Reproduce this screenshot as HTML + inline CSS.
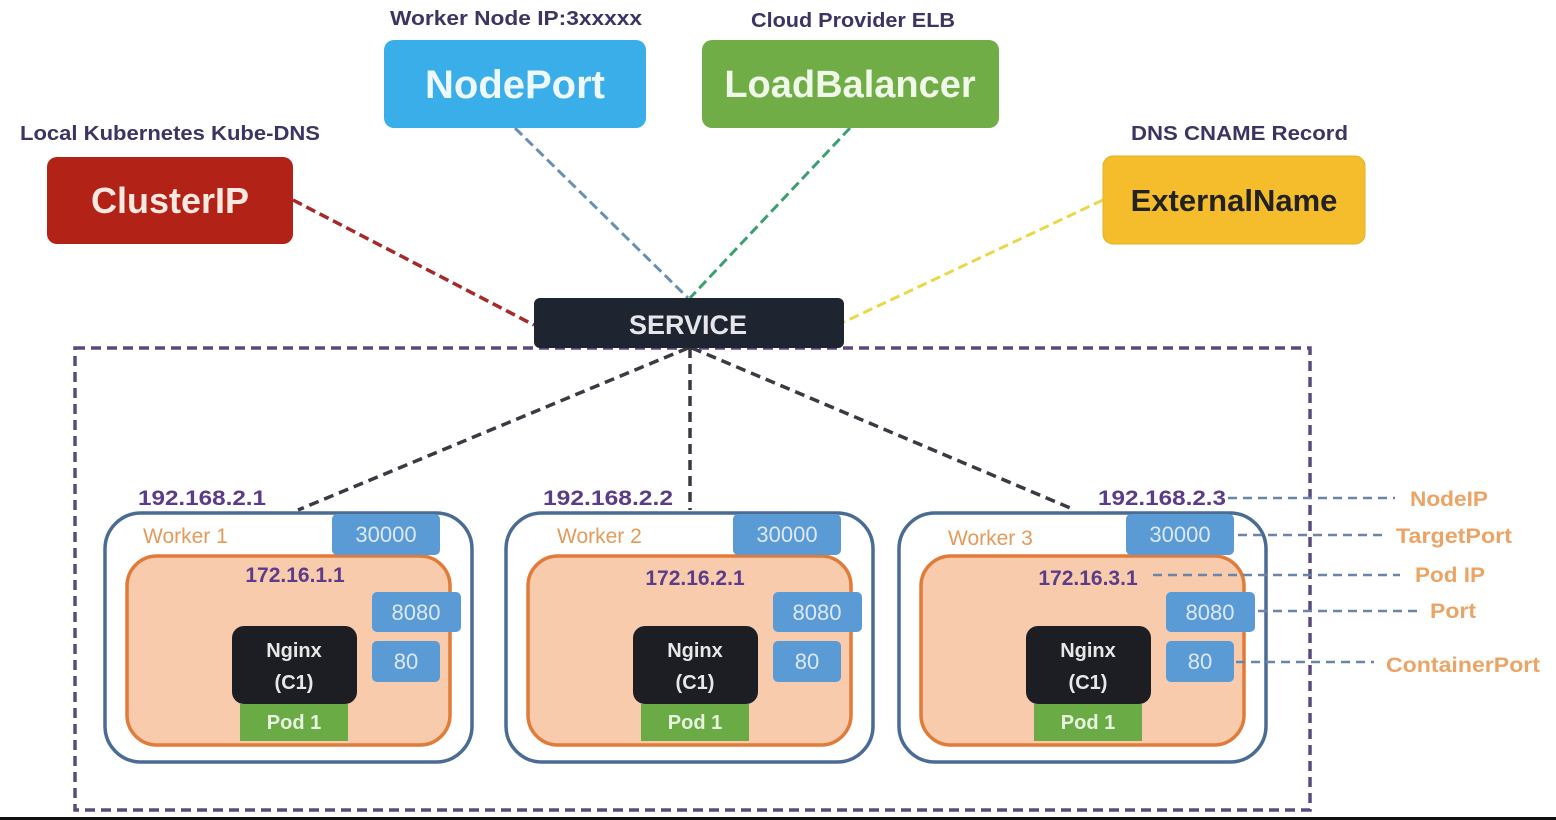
<!DOCTYPE html>
<html><head><meta charset="utf-8"><style>
html,body{margin:0;padding:0;background:#fff;}
svg{display:block;font-family:"Liberation Sans",sans-serif;font-weight:bold;}
</style></head><body>
<svg width="1556" height="820" viewBox="0 0 1556 820" xmlns="http://www.w3.org/2000/svg">
<defs>
<g id="w">
  <rect x="105" y="513" width="367" height="249" rx="36" fill="#fff" stroke="#4a6b93" stroke-width="3.5"/>
  <rect x="127" y="556" width="323" height="189" rx="30" fill="#f8cbad" stroke="#e07b39" stroke-width="3.5"/>
  <rect x="332" y="514" width="108" height="41" rx="5" fill="#5b9bd5"/>
  <text x="386" y="542" font-size="22" fill="#dce8f5" text-anchor="middle" font-weight="normal">30000</text>
  <rect x="372" y="592" width="89" height="40" rx="5" fill="#5b9bd5"/>
  <text x="416" y="620" font-size="22" fill="#dce8f5" text-anchor="middle" font-weight="normal">8080</text>
  <rect x="372" y="641" width="68" height="41" rx="5" fill="#5b9bd5"/>
  <text x="406" y="669" font-size="22" fill="#dce8f5" text-anchor="middle" font-weight="normal">80</text>
  <rect x="232" y="626" width="125" height="78" rx="12" fill="#1c1e24"/>
  <text x="294" y="657" font-size="20" fill="#e8e8e8" text-anchor="middle">Nginx</text>
  <text x="294" y="689" font-size="20" fill="#e8e8e8" text-anchor="middle">(C1)</text>
  <rect x="240" y="704" width="108" height="37" fill="#6aab45"/>
  <text x="294" y="729" font-size="20" fill="#e8f3e0" text-anchor="middle">Pod 1</text>
</g>
</defs>

<line x1="293" y1="200" x2="534" y2="325" stroke="#a52a2a" stroke-width="3.5" stroke-dasharray="10,5"/>
<line x1="515" y1="128" x2="688" y2="298" stroke="#6a8fb0" stroke-width="3" stroke-dasharray="10,5"/>
<line x1="850" y1="128" x2="690" y2="298" stroke="#3aa070" stroke-width="3" stroke-dasharray="10,5"/>
<line x1="1103" y1="200" x2="844" y2="322" stroke="#e8d84a" stroke-width="3" stroke-dasharray="10,5"/>

<rect x="75" y="348" width="1235" height="462" fill="none" stroke="#5a4a80" stroke-width="3.5" stroke-dasharray="10,6"/>

<g stroke="#3a3a42" stroke-width="3.5" stroke-dasharray="10,6">
<line x1="688" y1="348" x2="298" y2="510"/>
<line x1="690" y1="348" x2="690" y2="510"/>
<line x1="692" y1="348" x2="1075" y2="510"/>
</g>

<text x="20" y="140" font-size="20" fill="#3c3462" textLength="300" lengthAdjust="spacingAndGlyphs">Local Kubernetes Kube-DNS</text>
<rect x="47" y="157" width="246" height="87" rx="10" fill="#b32217"/>
<text x="170" y="213" font-size="36" fill="#fbe8e0" text-anchor="middle">ClusterIP</text>

<text x="390" y="25" font-size="20" fill="#3c3462" textLength="252" lengthAdjust="spacingAndGlyphs">Worker Node IP:3xxxxx</text>
<rect x="384" y="40" width="262" height="88" rx="10" fill="#3aaee8"/>
<text x="515" y="98" font-size="40" fill="#eef8ff" text-anchor="middle">NodePort</text>

<text x="751" y="27" font-size="20" fill="#3c3462" textLength="204" lengthAdjust="spacingAndGlyphs">Cloud Provider ELB</text>
<rect x="702" y="40" width="297" height="88" rx="10" fill="#70ad47"/>
<text x="850" y="97" font-size="38" fill="#f0f8ea" text-anchor="middle">LoadBalancer</text>

<text x="1131" y="140" font-size="20" fill="#3c3462" textLength="217" lengthAdjust="spacingAndGlyphs">DNS CNAME Record</text>
<rect x="1103" y="156" width="262" height="88" rx="10" fill="#f5bd2c" stroke="#e8b020" stroke-width="1"/>
<text x="1234" y="211" font-size="31" fill="#222" text-anchor="middle">ExternalName</text>

<rect x="534" y="298" width="310" height="50" rx="6" fill="#1e2430"/>
<text x="688" y="334" font-size="27" fill="#e6e6ea" text-anchor="middle">SERVICE</text>

<use href="#w"/>
<use href="#w" transform="translate(401,0)"/>
<use href="#w" transform="translate(794,0)"/>

<g font-size="21" fill="#5a3c8a">
<text x="138" y="505" textLength="128" lengthAdjust="spacingAndGlyphs">192.168.2.1</text>
<text x="543" y="505" textLength="130" lengthAdjust="spacingAndGlyphs">192.168.2.2</text>
<text x="1098" y="505" textLength="128" lengthAdjust="spacingAndGlyphs">192.168.2.3</text>
<text x="295" y="582" text-anchor="middle">172.16.1.1</text>
<text x="695" y="585" text-anchor="middle">172.16.2.1</text>
<text x="1088" y="585" text-anchor="middle">172.16.3.1</text>
</g>
<g font-size="21" fill="#e39a5a" font-weight="normal">
<text x="143" y="543">Worker 1</text>
<text x="557" y="543">Worker 2</text>
<text x="948" y="545">Worker 3</text>
</g>

<g stroke="#6a85a8" stroke-width="2.5" stroke-dasharray="9,6">
<line x1="1228" y1="498" x2="1395" y2="498"/>
<line x1="1238" y1="535" x2="1382" y2="535"/>
<line x1="1153" y1="575" x2="1400" y2="575"/>
<line x1="1258" y1="611" x2="1420" y2="611"/>
<line x1="1236" y1="662" x2="1374" y2="662"/>
</g>
<g font-size="21" fill="#eba465">
<text x="1410" y="506" textLength="78" lengthAdjust="spacingAndGlyphs">NodeIP</text>
<text x="1396" y="543" textLength="116" lengthAdjust="spacingAndGlyphs">TargetPort</text>
<text x="1415" y="582" textLength="70" lengthAdjust="spacingAndGlyphs">Pod IP</text>
<text x="1430" y="618" textLength="46" lengthAdjust="spacingAndGlyphs">Port</text>
<text x="1386" y="672" textLength="154" lengthAdjust="spacingAndGlyphs">ContainerPort</text>
</g>

<rect x="0" y="817" width="1556" height="3" fill="#111"/>
</svg>
</body></html>
